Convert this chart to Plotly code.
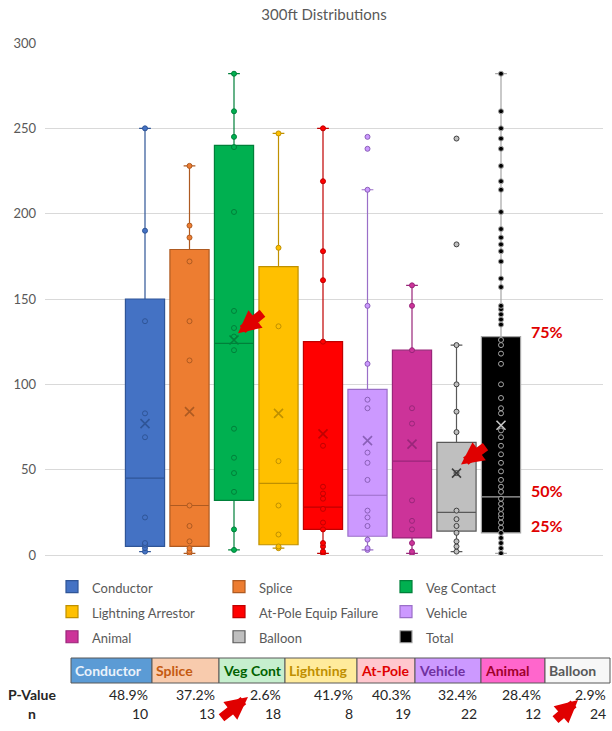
import plotly.graph_objects as go

# ---------------- data ----------------
categories = ['Conductor', 'Splice', 'Veg Contact', 'Lightning Arrestor',
              'At-Pole Equip Failure', 'Vehicle', 'Animal', 'Balloon', 'Total']
q1_vals = [5, 5, 32, 6, 15, 11, 10, 14, 13]
median_vals = [45, 29, 124, 42, 28, 35, 55, 25, 34]
q3_vals = [150, 179, 240, 169, 125, 97, 120, 66, 128]
lower_whisker = [2, 1, 3, 4, 1, 3, 1, 2, 1]
upper_whisker = [250, 228, 282, 247, 250, 214, 158, 123, 282]
mean_vals = [77, 84, 126, 83, 71, 67, 65, 48, 76]

conductor_pts = [2, 4, 6, 7, 22, 69, 83, 137, 190, 250]
splice_pts = [1, 2, 4, 8, 17, 29, 114, 137, 172, 186, 193, 228]
veg_pts = [3, 15, 37, 48, 57, 74, 120, 128, 133, 143, 201, 239, 245, 260, 282]
lightning_pts = [4, 5, 12, 29, 55, 134, 180, 247]
atpole_pts = [1, 2, 5, 7, 15, 19, 27, 33, 36, 40, 64, 125, 161, 178, 219, 250]
vehicle_pts = [3, 4, 9, 17, 22, 26, 44, 54, 60, 86, 91, 112, 146, 214, 238, 245]
animal_pts = [1, 2, 7, 15, 20, 32, 77, 86, 120, 146, 158]
balloon_pts = [2, 5, 8, 13, 17, 21, 26, 48, 72, 84, 100, 123, 182, 244]
total_pts = [1, 4, 7, 10, 13, 16, 19, 22, 24, 27, 30, 33, 37, 40, 44, 49, 54, 59,
             64, 69, 73, 83, 86, 92, 100, 112, 118, 123, 126, 135, 138, 141, 144,
             146, 157, 162, 172, 178, 182, 186, 191, 201, 214, 219, 228, 238, 244,
             250, 260, 282]
series_points = [conductor_pts, splice_pts, veg_pts, lightning_pts, atpole_pts,
                 vehicle_pts, animal_pts, balloon_pts, total_pts]

y_ticks = [0, 50, 100, 150, 200, 250, 300]

table_headers = ['Conductor', 'Splice', 'Veg Cont', 'Lightning', 'At-Pole',
                 'Vehicle', 'Animal', 'Balloon']
row_labels = ['P-Value', 'n']
p_values = ['48.9%', '37.2%', '2.6%', '41.9%', '40.3%', '32.4%', '28.4%', '2.9%']
n_values = [10, 13, 18, 8, 19, 22, 12, 24]

# ---------------- styles ----------------
fills = ['#4472C4', '#ED7D31', '#00B050', '#FFC000', '#FF0000',
         '#CC99FF', '#CC3399', '#BFBFBF', '#000000']
lines = ['#2F5597', '#AE5A21', '#00803A', '#BF9000', '#C00000',
         '#9A6FC8', '#99267A', '#595959', '#A6A6A6']
mean_colors = ['#2F5597', '#AE5A21', '#00803A', '#BF9000', '#C00000',
               '#8A5FB8', '#99267A', '#404040', '#C8C8C8']
point_lines = ['#2F5597', '#AE5A21', '#00803A', '#BF9000', '#C00000',
               '#8A5FB8', '#99267A', '#404040', '#A6A6A6']

header_fills = ['#5B9BD5', '#F8CBAD', '#C6EFCE', '#FFEB9C', '#FFC7CE',
                '#CC99FF', '#FF66CC', '#F7F7F7']
header_text = ['#EAF2FB', '#C55A11', '#006100', '#BF8F00', '#E00000',
               '#7030A0', '#A0002A', '#595959']
col_edges = [71, 152, 219, 285, 357, 415, 481, 545, 610]   # px, table layout
header_top, header_bottom = 658, 683
row_centers = [694, 713]

W, H = 612, 731
FONT = 'Lato'
RED = '#E00000'


def px(xp):
    return xp / W


def py(yp):
    return 1 - yp / H


fig = go.Figure()
positions = list(range(len(categories)))

for i, name in enumerate(categories):
    fig.add_trace(go.Box(
        x=[positions[i]], q1=[q1_vals[i]], median=[median_vals[i]], q3=[q3_vals[i]],
        lowerfence=[lower_whisker[i]], upperfence=[upper_whisker[i]],
        name='<span style="font-size:13px">' + name + '</span>',
        fillcolor=fills[i], line=dict(color=lines[i], width=1.2),
        width=0.88, whiskerwidth=0.3, boxpoints=False, hoverinfo='skip',
        legendgroup=name,
    ))

for i, pts in enumerate(series_points):
    fig.add_trace(go.Scatter(
        x=[positions[i]] * len(pts), y=pts, mode='markers',
        marker=dict(size=5, color=fills[i], line=dict(color=point_lines[i], width=1)),
        showlegend=False, hoverinfo='skip', legendgroup=categories[i],
    ))
    fig.add_trace(go.Scatter(
        x=[positions[i]], y=[mean_vals[i]], mode='markers',
        marker=dict(symbol='x-thin-open', size=9, color=mean_colors[i],
                    line=dict(color=mean_colors[i], width=1.6)),
        showlegend=False, hoverinfo='skip', legendgroup=categories[i],
    ))

x_left, x_right = 45, 603
px_per_unit = 44.5
x0_px = 145
fig.update_layout(
    width=W, height=H,
    margin=dict(l=0, r=0, t=0, b=0, autoexpand=False),
    paper_bgcolor='white', plot_bgcolor='white',
    font=dict(family=FONT, color='#595959'),
    title=dict(text='300ft Distributions', x=324 / W, xref='container', xanchor='center',
               y=py(15), yref='container', yanchor='middle', automargin=False,
               font=dict(family=FONT, size=15, color='#595959')),
    xaxis=dict(domain=[px(x_left), px(x_right)],
               range=[(x_left - x0_px) / px_per_unit, (x_right - x0_px) / px_per_unit],
               showticklabels=False, showgrid=False, zeroline=False, showline=False,
               automargin=False, fixedrange=True),
    yaxis=dict(domain=[py(555), py(43)], range=[0, 300], tickvals=y_ticks,
               showgrid=True, gridcolor='#D9D9D9', gridwidth=1,
               zeroline=True, zerolinecolor='#D9D9D9', zerolinewidth=1,
               showline=False, ticks='', ticklabelstandoff=8, automargin=False,
               tickfont=dict(family=FONT, size=13, color='#595959'), fixedrange=True),
    showlegend=True,
    legend=dict(orientation='h', x=px(52), xanchor='left', y=py(569), yanchor='top',
                entrywidth=122, entrywidthmode='pixels', traceorder='normal',
                font=dict(family=FONT, size=17, color='#595959'),
                bgcolor='rgba(0,0,0,0)'),
    boxmode='overlay',
)

# percentile labels
for txt, yv in [('75%', 131), ('50%', 37.6), ('25%', 17.4)]:
    fig.add_annotation(x=(529 - x0_px) / px_per_unit, y=yv, xref='x', yref='y',
                       text='<b>' + txt + '</b>', showarrow=False, xanchor='left',
                       yanchor='middle', font=dict(family=FONT, size=16, color=RED))

# ---------------- table (header cells, labels, values) ----------------
for k, head in enumerate(table_headers):
    x_a, x_b = col_edges[k], col_edges[k + 1]
    fig.add_shape(type='rect', xref='paper', yref='paper',
                  x0=px(x_a), x1=px(x_b), y0=py(header_bottom), y1=py(header_top),
                  fillcolor=header_fills[k], line=dict(color='#595959', width=1),
                  layer='above')
    fig.add_annotation(x=px(x_a + 2), y=py((header_top + header_bottom) / 2),
                       xref='paper', yref='paper', xanchor='left', yanchor='middle',
                       text='<b>' + head + '</b>', showarrow=False,
                       font=dict(family=FONT, size=14, color=header_text[k]))
    for r, val in enumerate([p_values[k], str(n_values[k])]):
        fig.add_annotation(x=px(x_b - 2), y=py(row_centers[r]),
                           xref='paper', yref='paper', xanchor='right', yanchor='middle',
                           text=val, showarrow=False,
                           font=dict(family=FONT, size=14, color='#262626'))

for r, lab in enumerate(row_labels):
    fig.add_annotation(x=px(32), y=py(row_centers[r]), xref='paper', yref='paper',
                       xanchor='center', yanchor='middle', text='<b>' + lab + '</b>',
                       showarrow=False, font=dict(family=FONT, size=14, color='#262626'))

# red arrows on chart
arrow_style = dict(text='', showarrow=True, arrowcolor=RED, arrowwidth=9,
                   arrowhead=2, arrowsize=0.5, standoff=0)
fig.add_annotation(x=(238 - x0_px) / px_per_unit, y=130, xref='x', yref='y',
                   ax=26, ay=-21, **arrow_style)
fig.add_annotation(x=(461 - x0_px) / px_per_unit, y=53, xref='x', yref='y',
                   ax=26, ay=-19, **arrow_style)
# red arrows on table
fig.add_annotation(x=px(248), y=py(697), xref='paper', yref='paper',
                   ax=-28, ay=22, **arrow_style)
fig.add_annotation(x=px(578), y=py(700), xref='paper', yref='paper',
                   ax=-24, ay=21, **arrow_style)

fig.write_html('out.html', config={'displayModeBar': False},
               post_script="document.body.style.margin='0';"
                           "document.body.style.overflow='hidden';")
